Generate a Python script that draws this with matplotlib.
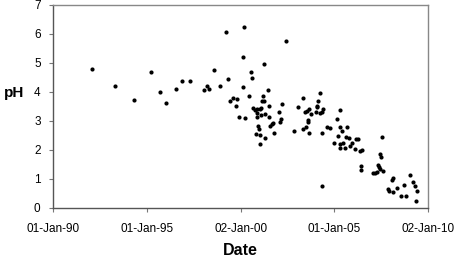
import matplotlib
matplotlib.use("Agg")
import matplotlib.pyplot as plt
import matplotlib.dates as mdates
import pandas as pd

# sample dates and pH readings
dates = [
    "1992-01-26", "1993-04-13", "1994-05-01", "1995-03-20", "1995-09-13",
    "1996-01-15", "1996-07-23", "1996-11-10", "1997-04-23", "1998-01-22",
    "1998-03-22", "1998-05-05", "1998-07-27", "1998-11-22", "1999-03-25",
    "1999-05-05", "1999-06-07", "1999-08-04", "1999-10-16", "1999-10-01",
    "1999-11-24", "2000-03-17", "2000-02-10", "2000-07-13", "2000-08-18",
    "2000-02-21", "2000-06-07", "2000-04-01", "2000-09-05", "2000-10-08",
    "2000-11-14", "2000-11-15", "2000-11-10", "2000-12-14", "2000-12-24",
    "2000-10-27", "2001-01-08", "2001-01-19", "2001-01-20", "2001-02-07",
    "2001-01-27", "2001-02-14", "2001-03-25", "2001-03-08", "2001-04-09",
    "2001-04-20", "2001-04-27", "2001-06-10", "2001-07-13", "2001-07-14",
    "2001-07-27", "2001-08-29", "2001-10-01", "2001-10-19", "2002-01-26",
    "2002-02-13", "2002-02-20", "2002-03-25", "2002-06-10", "2002-11-14",
    "2003-01-19", "2003-05-08", "2003-05-09", "2003-06-10", "2003-06-28",
    "2003-07-27", "2003-07-28", "2003-07-31", "2003-08-26", "2003-09-02",
    "2003-10-05", "2004-01-30", "2004-02-17", "2004-03-20", "2004-02-06",
    "2004-01-19", "2004-03-21", "2004-04-27", "2004-05-26", "2004-05-01",
    "2004-05-08", "2004-08-18", "2004-10-08", "2005-04-16", "2005-02-13",
    "2005-04-13", "2005-06-03", "2005-09-09", "2005-03-11", "2004-12-16",
    "2005-04-14", "2005-06-14", "2005-04-23", "2005-07-24", "2005-08-18",
    "2005-10-05", "2005-11-10", "2005-12-09", "2006-02-06", "2006-02-24",
    "2006-03-29", "2006-05-12", "2006-06-28", "2006-05-26", "2006-05-27",
    "2007-01-22", "2007-03-03", "2007-04-09", "2007-05-01", "2007-05-16",
    "2007-06-03", "2007-06-14", "2007-06-21", "2007-07-24", "2007-08-11",
    "2007-11-03", "2007-11-25", "2008-01-22", "2008-02-17", "2008-02-18",
    "2008-05-05", "2008-07-24", "2008-09-13", "2008-10-27", "2009-01-15",
    "2009-03-18", "2009-04-16", "2009-06-07", "2009-05-12",
]
ph = [
    4.80, 4.21, 3.71, 4.67, 4.01,
    3.61, 4.10, 4.37, 4.37, 4.07,
    4.21, 4.10, 4.76, 4.21, 6.06,
    4.46, 3.67, 3.80, 3.76, 3.51,
    3.14, 6.25, 5.20, 4.67, 4.49,
    4.16, 3.86, 3.10, 3.44, 3.37,
    3.40, 3.27, 3.13, 2.84, 2.72,
    2.55, 2.52, 2.22, 3.42, 3.46,
    3.21, 3.67, 3.67, 3.87, 4.95,
    2.41, 3.24, 4.06, 3.51, 3.14,
    2.83, 2.89, 2.94, 2.60, 3.30,
    2.98, 3.06, 3.60, 5.75, 2.64,
    3.49, 3.79, 2.72, 3.30, 2.80,
    3.34, 3.02, 2.98, 2.60, 3.40,
    3.25, 3.49, 3.70, 3.95, 3.52,
    3.31, 3.28, 3.32, 3.42, 2.60,
    0.75, 2.78, 2.76, 3.37, 3.07,
    2.78, 2.66, 2.78, 2.49, 2.23,
    2.21, 2.23, 2.08, 2.07, 2.45,
    2.42, 2.14, 2.25, 2.03, 2.39,
    2.38, 1.98, 2.00, 1.44, 1.32,
    1.20, 1.22, 1.23, 1.48, 1.41,
    1.34, 1.86, 1.77, 2.46, 1.26,
    0.64, 0.60, 0.95, 1.02, 0.56,
    0.69, 0.42, 0.78, 0.41, 1.15,
    0.90, 0.74, 0.60, 0.24,
]
x_ticks = ["1990-01-01", "1995-01-01", "2000-01-02", "2005-01-01", "2010-01-02"]

plt.rcParams['font.family'] = ['Liberation Sans', 'DejaVu Sans']

fig = plt.figure(figsize=(4.54, 2.58), dpi=100)
ax = fig.add_axes([0.117, 0.194, 0.826, 0.787])

ax.plot(pd.to_datetime(dates), ph, 'o', color='black', markersize=3, markeredgewidth=0)

ticks = pd.to_datetime(x_ticks)
ax.set_xlim(ticks[0], ticks[-1])
ax.set_xticks(ticks)
ax.xaxis.set_major_formatter(mdates.DateFormatter('%d-%b-%y'))
ax.set_ylim(0, 7)
ax.set_yticks(range(0, 8))

ax.tick_params(axis='both', labelsize=8.5, length=3, width=0.8, color='#777777', direction='out')
ax.tick_params(axis='x', pad=8)
ax.tick_params(axis='y', pad=6)

for side in ['top', 'right']:
    ax.spines[side].set_color('#888888')
    ax.spines[side].set_linewidth(1)
for side in ['left', 'bottom']:
    ax.spines[side].set_color('#555555')
    ax.spines[side].set_linewidth(1)

ax.set_xlabel("Date", fontsize=11.5, fontweight='bold')
ax.set_ylabel("pH", fontsize=11, fontweight='bold', rotation=0)
ax.xaxis.set_label_coords(0.5, -0.175)
ax.yaxis.set_label_coords(-0.105, 0.53)

fig.savefig("out.png", dpi=100)
